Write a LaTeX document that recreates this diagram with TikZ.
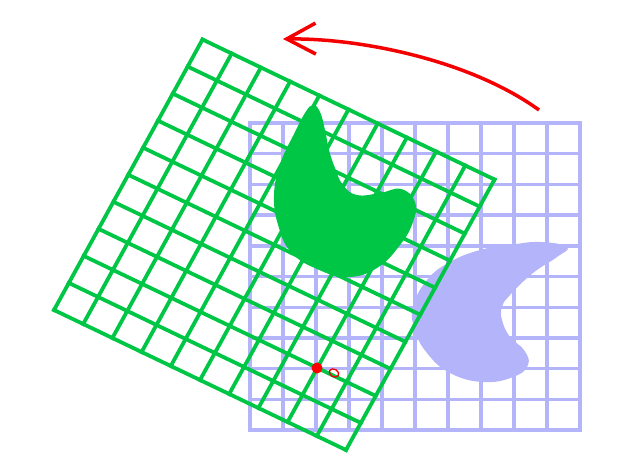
\documentclass[tikz,border=0pt]{standalone}
\usetikzlibrary{arrows.meta,calc}
\definecolor{gridgreen}{RGB}{0,198,70}
\definecolor{lav}{RGB}{180,180,250}
\definecolor{arrowred}{RGB}{245,0,0}
\begin{document}
\begin{tikzpicture}[x=1pt,y=-1pt,
  bluegrid/.style={draw=lav,line width=3.4pt,line cap=rect},
  greengrid/.style={draw=gridgreen,line width=3.8pt,line cap=rect},
  blob/.style={smooth cycle,tension=0.75}]
\useasboundingbox (0,0) rectangle (628,456);
% original (lavender) grid
\foreach \i in {0,...,10} {
  \draw[bluegrid] ({250+33*\i},123) -- ({250+33*\i},430);
  \draw[bluegrid] (250,{123+30.7*\i}) -- (580,{123+30.7*\i});
}
% original shape
\fill[lav] plot[blob] coordinates {(567,247) (540,242) (510,245) (480,250) (450,262) (427,280) (413,307) (415,330) (427,353) (450,373) (483,382) (513,377) (528,365) (524,350) (510,337) (502,320) (502,307) (510,295) (533,273) (557,257)};
% rotated (green) grid
\coordinate (T) at (202.5,39.5);
\coordinate (R) at (494.5,179.5);
\coordinate (B) at (346,450);
\coordinate (L) at (54,310);
\foreach \i in {0,...,10} {
  \draw[greengrid] ($(T)!\i/10!(R)$) -- ($(L)!\i/10!(B)$);
  \draw[greengrid] ($(T)!\i/10!(L)$) -- ($(R)!\i/10!(B)$);
}
% rotated shape
\fill[gridgreen] plot[blob] coordinates {(313,105) (320,112) (325,130) (329,150) (335,168) (343,185) (357,195) (380,193) (401,189) (415,202) (413,222) (400,245) (377,268) (347,277) (317,269) (292,253) (279,228) (274,195) (281,162) (294,134) (305,113)};
% points
\fill[red] (317,368) circle (5.5);
\draw[arrowred,line width=1.3pt,rotate around={-30:(334,373)}] (334,373) ellipse (5 and 3.8);
% rotation arrow
\coordinate (A) at (539,110);
\coordinate (Z) at (283,39);
\draw[arrowred,line width=3.5pt,-{Straight Barb[length=29pt,width=31pt]}] (A) .. controls (470,60) and (360,38) .. (Z);
\end{tikzpicture}
\end{document}
